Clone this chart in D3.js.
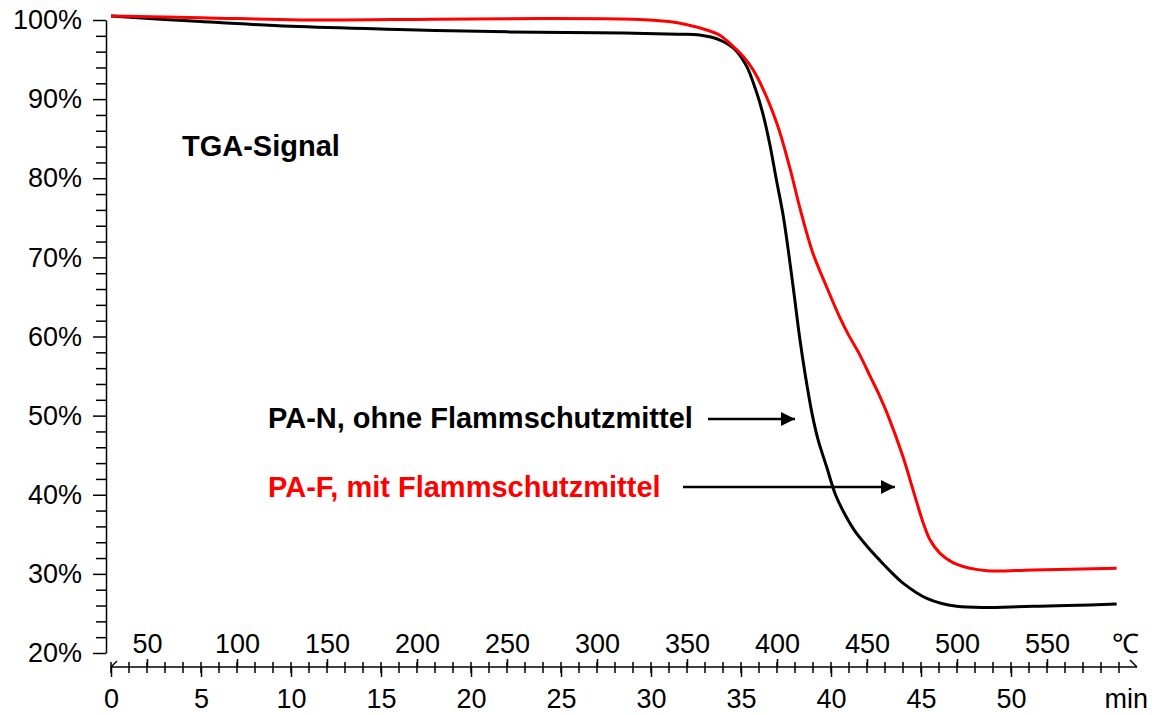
<!DOCTYPE html>
<html>
<head>
<meta charset="utf-8">
<script src="https://cdn.jsdelivr.net/npm/d3@7"></script>
<style>
  body { margin: 0; background: #fff; }
  svg text { font-family: "Liberation Sans", Arial, sans-serif; }
</style>
</head>
<body>
<div id="chart"></div>
<script>
// time in minutes, mass in % (TGA)
var timeN = [0, 5, 10, 16, 22, 27, 31.5, 32.7, 33.8, 34.6, 35.3, 35.8, 36.2, 36.6, 36.95, 37.35, 37.68, 37.97, 38.25, 38.58, 38.97, 39.3, 39.76, 40.25, 40.8, 41.3, 42.0, 42.72, 43.4, 44.02, 45.32, 46.98, 51.2, 55.87];
var massN = [100.5, 99.8, 99.2, 98.8, 98.5, 98.4, 98.2, 98.1, 97.5, 96.4, 94.2, 91.3, 88.3, 84.3, 80.0, 75.2, 70.0, 65.0, 60.0, 55.0, 50.0, 46.8, 43.5, 40.0, 37.4, 35.5, 33.5, 31.7, 30.1, 28.8, 26.9, 25.9, 25.9, 26.2];

var timeF = [0, 5, 10.5, 18, 24, 29, 31, 32, 33, 33.8, 34.5, 35.0, 35.4, 35.9, 37.0, 37.75, 38.3, 39.0, 39.75, 40.45, 40.95, 41.55, 42.17, 42.7, 43.17, 44.0, 44.6, 45.1, 45.5, 46.06, 47.0, 48.65, 51.2, 55.87];
var massF = [100.5, 100.3, 100.0, 100.1, 100.2, 100.1, 99.8, 99.4, 98.8, 98.1, 96.8, 95.7, 94.6, 92.8, 86.9, 81.0, 76.0, 70.5, 66.3, 62.6, 60.3, 57.9, 55.0, 52.5, 50.0, 44.8, 40.3, 36.6, 34.3, 32.6, 31.2, 30.4, 30.5, 30.7];

var yTicks = [20, 30, 40, 50, 60, 70, 80, 90, 100];
var minTicks = [0, 5, 10, 15, 20, 25, 30, 35, 40, 45, 50];
var tempTicks = [50, 100, 150, 200, 250, 300, 350, 400, 450, 500, 550];

var labelN = "PA-N, ohne Flammschutzmittel";
var labelF = "PA-F, mit Flammschutzmittel";

var width = 1156, height = 715;

var svg = d3.select("#chart")
    .append("svg")
    .attr("width", width)
    .attr("height", height);

// scales
var x = d3.scaleLinear().domain([0, 57]).range([111, 1137]);
var xT = d3.scaleLinear().domain([30, 600]).range([111, 1137]); // 10 K/min, start at 30 °C
var y = d3.scaleLinear().domain([20, 100]).range([653, 20]);
var axisY = 667;

// y axis, major + minor ticks
var yAxis = d3.axisLeft(y)
    .tickValues(yTicks)
    .tickSize(13)
    .tickSizeOuter(0)
    .tickPadding(11)
    .tickFormat(function(d) { return d + "%"; });

var gy = svg.append("g")
    .attr("transform", "translate(106,0)")
    .call(yAxis);
gy.selectAll("text").style("font-size", "27px").attr("fill", "#000");
gy.selectAll("line, path").attr("stroke", "#000").attr("stroke-width", 1.5);

var minorY = d3.range(22, 100, 2).filter(function(d) { return d % 10 !== 0; });
var gyMinor = svg.append("g")
    .attr("transform", "translate(106,0)")
    .call(d3.axisLeft(y).tickValues(minorY).tickSize(10).tickSizeOuter(0).tickFormat(""));
gyMinor.select(".domain").remove();
gyMinor.selectAll("line").attr("stroke", "#000").attr("stroke-width", 1.5);

// x axis line
svg.append("line")
    .attr("x1", x(0)).attr("x2", x(57))
    .attr("y1", axisY).attr("y2", axisY)
    .attr("stroke", "#000").attr("stroke-width", 1.5);
// small end strokes
svg.append("line")
    .attr("x1", x(0)).attr("y1", axisY)
    .attr("x2", x(0) + 6).attr("y2", axisY - 6)
    .attr("stroke", "#000").attr("stroke-width", 1.5);
svg.append("line")
    .attr("x1", x(57)).attr("y1", axisY)
    .attr("x2", x(57) - 7).attr("y2", axisY - 7)
    .attr("stroke", "#000").attr("stroke-width", 1.5);

// minute ticks (every minute)
svg.append("g").selectAll("line")
    .data(d3.range(0, 57))
    .enter().append("line")
    .attr("x1", function(d) { return x(d); })
    .attr("x2", function(d) { return x(d); })
    .attr("y1", axisY - 5)
    .attr("y2", axisY + 6)
    .attr("stroke", "#000").attr("stroke-width", 1.5);

// minute axis (bottom)
var gx = svg.append("g")
    .attr("transform", "translate(0," + axisY + ")")
    .call(d3.axisBottom(x).tickValues(minTicks).tickSize(10).tickPadding(12).tickFormat(d3.format("d")));
gx.select(".domain").remove();
gx.selectAll("line").attr("stroke", "#000").attr("stroke-width", 1.5);
gx.selectAll("text").style("font-size", "27px").attr("fill", "#000");

// temperature axis (top of the line)
var gt = svg.append("g")
    .attr("transform", "translate(0," + axisY + ")")
    .call(d3.axisTop(xT).tickValues(tempTicks).tickSize(8).tickPadding(6).tickFormat(d3.format("d")));
gt.select(".domain").remove();
gt.selectAll("line").attr("stroke", "#000").attr("stroke-width", 1.5);
gt.selectAll("text").style("font-size", "27px").attr("fill", "#000");

svg.append("text")
    .attr("x", 1139).attr("y", 653)
    .attr("text-anchor", "end")
    .style("font-size", "27px")
    .text("℃");
svg.append("text")
    .attr("x", 1148).attr("y", 708)
    .attr("text-anchor", "end")
    .style("font-size", "27px")
    .text("min");

// curves
var line = d3.line()
    .x(function(d) { return x(d[0]); })
    .y(function(d) { return y(d[1]); })
    .curve(d3.curveCatmullRom.alpha(0.5));

svg.append("path")
    .datum(d3.zip(timeN, massN))
    .attr("d", line)
    .attr("fill", "none")
    .attr("stroke", "#000")
    .attr("stroke-width", 3);

svg.append("path")
    .datum(d3.zip(timeF, massF))
    .attr("d", line)
    .attr("fill", "none")
    .attr("stroke", "#ff0000")
    .attr("stroke-width", 3);

// annotations
svg.append("text")
    .attr("x", 182).attr("y", 156)
    .style("font-size", "29px")
    .style("font-weight", "bold")
    .text("TGA-Signal");

svg.append("text")
    .attr("x", 268).attr("y", 428)
    .style("font-size", "29px")
    .style("font-weight", "bold")
    .attr("fill", "#000")
    .text(labelN);

svg.append("text")
    .attr("x", 268).attr("y", 497)
    .style("font-size", "29px")
    .style("font-weight", "bold")
    .attr("fill", "#ff0000")
    .text(labelF);

svg.append("defs").append("marker")
    .attr("id", "arrow")
    .attr("viewBox", "0 0 10 10")
    .attr("refX", 10).attr("refY", 5)
    .attr("markerUnits", "userSpaceOnUse")
    .attr("markerWidth", 14).attr("markerHeight", 14)
    .attr("orient", "auto")
    .append("path")
    .attr("d", "M0,0L10,5L0,10Z")
    .attr("fill", "#000");

svg.append("line")
    .attr("x1", 708).attr("y1", 419)
    .attr("x2", x(38.0)).attr("y2", 419)
    .attr("stroke", "#000").attr("stroke-width", 2.5)
    .attr("marker-end", "url(#arrow)");

svg.append("line")
    .attr("x1", 683).attr("y1", 487)
    .attr("x2", x(43.55)).attr("y2", 487)
    .attr("stroke", "#000").attr("stroke-width", 2.5)
    .attr("marker-end", "url(#arrow)");
</script>
</body>
</html>
